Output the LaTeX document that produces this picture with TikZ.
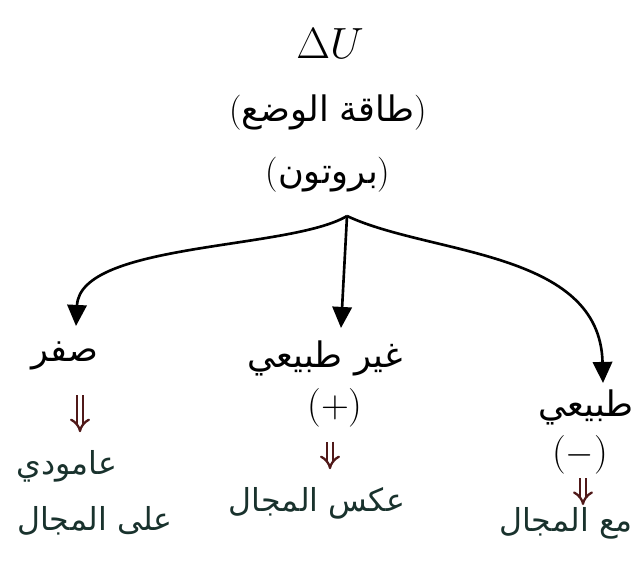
\documentclass[tikz,border=0pt]{standalone}
\usepackage{fontspec}
\usetikzlibrary{arrows.meta,positioning}
\newfontfamily\arabicfont[Script=Arabic]{DejaVu Sans}
\TeXXeTstate=1
\newcommand{\rl}[1]{\beginR#1\endR}
\newcommand{\pa}[1]{{\normalfont(}#1{\normalfont)}}
\definecolor{inkred}{RGB}{80,25,25}
\definecolor{inkgreen}{RGB}{25,50,45}

\begin{document}
\begin{tikzpicture}[x=0.02cm,y=-0.02cm,
                    ar/.style={font=\arabicfont\fontsize{20}{24}\selectfont,inner sep=1pt},
                    sub/.style={font=\arabicfont\fontsize{18}{22}\selectfont,inner sep=1pt,text=inkgreen},
                    branch/.style={line width=1.5pt,-{Triangle[length=12pt,width=11pt]}},
                    implies/.style={inkred,line width=1.3pt,double,double distance=2.5pt,-{Implies}}]
\useasboundingbox (0,0) rectangle (643,569);

\node[font=\fontsize{32}{36}\selectfont] (du) at (330,44) {$\Delta U$};
\node[ar] (energy) at (328,113) {\pa{\rl{طاقة الوضع}}};
\node[ar] (proton) at (328,175) {\pa{\rl{بروتون}}};
\coordinate (split) at (347,216);

\node[ar] (zero) at (65,356) {\rl{صفر}};
\node[sub] (perp) at (67,466) {\rl{عامودي}};
\node[sub] (onfield) at (95,521) {\rl{على المجال}};

\node[ar] (unnat) at (325,358) {\rl{غير طبيعي}};
\node[ar,font=\fontsize{22}{26}\selectfont] (plus) at (335,408) {(+)};
\node[sub] (against) at (317,503) {\rl{عكس المجال}};

\node[ar] (nat) at (586,407) {\rl{طبيعي}};
\node[ar,font=\fontsize{22}{26}\selectfont] (minus) at (580,455) {($-$)};
\node[sub] (withfield) at (566,523) {\rl{مع المجال}};

\coordinate (tzero) at (76,326);
\coordinate (tunnat) at (341,328);
\coordinate (tnat) at (603,383);

\draw[branch] (split) .. controls (290,250) and (80,242) .. (tzero);
\draw[branch] (split) -- (tunnat);
\draw[branch] (split) .. controls (430,255) and (600,250) .. (tnat);

\draw[implies,shorten <=13pt,shorten >=9pt] (zero.south -| 80,0) -- (perp.north -| 80,0);
\draw[implies,shorten <=7pt,shorten >=9pt] (plus.south -| 330,0) -- (against.north -| 330,0);
\draw[implies,shorten <=1pt] (minus.south -| 583,0) -- (withfield.north -| 583,0);
\end{tikzpicture}
\end{document}
